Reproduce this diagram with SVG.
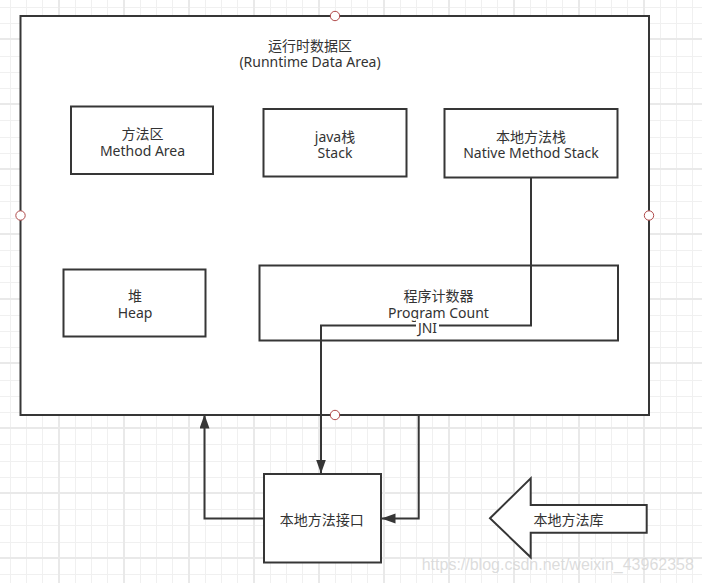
<svg xmlns="http://www.w3.org/2000/svg" width="702" height="583" viewBox="0 0 702 583">
<defs>
<style>
.grid-minor{stroke:#f0f0f0;stroke-width:1;fill:none}
.grid-major{stroke:#e9e9e9;stroke-width:2;fill:none}
.box{fill:#ffffff;stroke:#363636;stroke-width:2}
.lbl{font-family:"Noto Sans","Noto Sans CJK SC",sans-serif;font-size:14px;fill:#333333;text-anchor:middle}
.edge{fill:none;stroke:#363636;stroke-width:2}
.pt{fill:#ffffff;stroke:#b04a4a;stroke-width:1}
</style>
<marker id="arrow" markerUnits="userSpaceOnUse" markerWidth="15" markerHeight="11" refX="14" refY="5" orient="auto">
<path d="M0,0 L14,5 L0,10 Z" fill="#363636"/>
</marker>
</defs>
<rect width="702" height="583" fill="#ffffff"/>
<g id="grid">
<path class="grid-minor" d="M10.5 0V583M26.5 0V583M42.5 0V583M75.5 0V583M91.5 0V583M107.5 0V583M140.5 0V583M156.5 0V583M172.5 0V583M205.5 0V583M221.5 0V583M237.5 0V583M270.5 0V583M286.5 0V583M302.5 0V583M335.5 0V583M351.5 0V583M367.5 0V583M400.5 0V583M416.5 0V583M432.5 0V583M465.5 0V583M481.5 0V583M497.5 0V583M530.5 0V583M546.5 0V583M562.5 0V583M595.5 0V583M611.5 0V583M627.5 0V583M660.5 0V583M676.5 0V583M692.5 0V583"/>
<path class="grid-minor" d="M0 7.5H702M0 23.5H702M0 56.5H702M0 72.5H702M0 88.5H702M0 120.5H702M0 137.5H702M0 153.5H702M0 185.5H702M0 201.5H702M0 218.5H702M0 250.5H702M0 266.5H702M0 282.5H702M0 315.5H702M0 331.5H702M0 347.5H702M0 380.5H702M0 396.5H702M0 412.5H702M0 444.5H702M0 461.5H702M0 477.5H702M0 509.5H702M0 525.5H702M0 542.5H702M0 574.5H702"/>
<path class="grid-major" d="M59 0V583M124 0V583M189 0V583M254 0V583M319 0V583M384 0V583M449 0V583M514 0V583M579 0V583M644 0V583"/>
<path class="grid-major" d="M0 39H702M0 104H702M0 169H702M0 234H702M0 299H702M0 363H702M0 428H702M0 493H702M0 558H702"/>
</g>
<text x="421.7" y="570" font-family="Liberation Sans, Arial, sans-serif" font-size="16" fill="#d6d6d6" fill-opacity="0.85">https://blog.csdn.net/weixin_43962358</text>
<g id="runtime-data-area">
<rect class="box" x="20.5" y="16" width="628.5" height="399"/>
<text class="lbl" x="310" y="51">运行时数据区</text>
<text class="lbl" x="310" y="66.5">(Runntime Data Area)</text>
</g>
<g id="method-area">
<rect class="box" x="71" y="106.5" width="142" height="67.5"/>
<text class="lbl" x="142.5" y="139">方法区</text>
<text class="lbl" x="142.5" y="155.5">Method Area</text>
</g>
<g id="java-stack">
<rect class="box" x="263.5" y="109" width="143" height="67.5"/>
<text class="lbl" x="335" y="141.5">java栈</text>
<text class="lbl" x="335" y="157.5">Stack</text>
</g>
<g id="native-method-stack">
<rect class="box" x="444.5" y="109" width="173" height="68.5"/>
<text class="lbl" x="531" y="141.5">本地方法栈</text>
<text class="lbl" x="531" y="157.5">Native Method Stack</text>
</g>
<g id="heap">
<rect class="box" x="63.5" y="269.5" width="142" height="67"/>
<text class="lbl" x="135" y="300.5">堆</text>
<text class="lbl" x="135" y="317.5">Heap</text>
</g>
<g id="program-counter">
<rect class="box" x="259.5" y="265.5" width="358.5" height="75"/>
<text class="lbl" x="438.5" y="301">程序计数器</text>
<text class="lbl" x="438.5" y="317.5">Program Count</text>
</g>
<g id="native-interface">
<rect class="box" x="264" y="474" width="117" height="88.5"/>
<text class="lbl" x="321.7" y="525">本地方法接口</text>
</g>
<g id="native-library">
<polygon class="box" points="490,518.3 530.7,478.3 530.7,505 646.7,505 646.7,532.7 530.7,532.7 530.7,557.3"/>
<text class="lbl" x="533.5" y="525" style="text-anchor:start">本地方法库</text>
</g>
<g id="connectors">
<path class="edge" d="M531,178 V325.5 H321 V473.5" marker-end="url(#arrow)"/>
<rect x="416" y="319" width="23" height="15" fill="#ffffff"/>
<text class="lbl" x="427.5" y="332.5">JNI</text>
<path class="edge" d="M264,518.5 H204.5 V414.5" marker-end="url(#arrow)"/>
<path class="edge" d="M418.7,416 V518.5 H381.5" marker-end="url(#arrow)"/>
</g>
<g id="anchor-points">
<circle class="pt" cx="335" cy="16" r="4.7"/>
<circle class="pt" cx="20.5" cy="215.5" r="4.7"/>
<circle class="pt" cx="649" cy="215.5" r="4.7"/>
<circle class="pt" cx="335" cy="415" r="4.7"/>
</g>
</svg>
